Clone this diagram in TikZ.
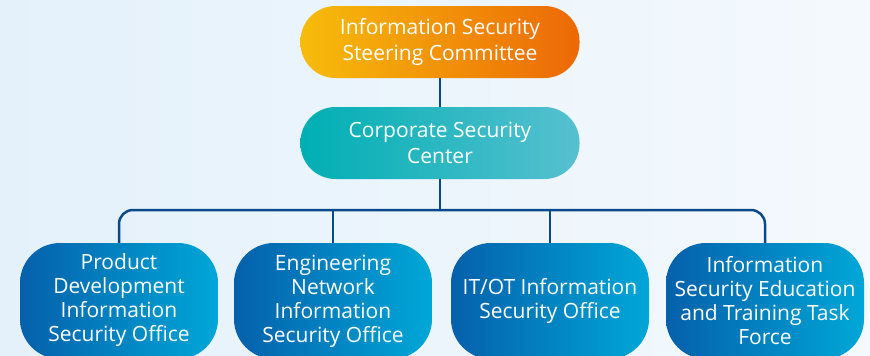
\documentclass[tikz,border=0pt]{standalone}
\usepackage{fontspec}
\setmainfont{Open Sans}
\definecolor{bgleft}{HTML}{E4F1FB}
\definecolor{bgright}{HTML}{F4F9FD}
\definecolor{linkblue}{HTML}{0B4A8A}
\definecolor{orangeA}{HTML}{F7BC0B}
\definecolor{orangeB}{HTML}{EC6806}
\definecolor{tealA}{HTML}{00AFB3}
\definecolor{tealB}{HTML}{57C0D0}
\definecolor{blueA}{HTML}{0560AB}
\definecolor{blueB}{HTML}{00A7D7}

\begin{document}
\begin{tikzpicture}[x=1pt, y=-1pt]
        % background
        \fill[left color=bgleft, right color=bgright] (0,0) rectangle (870,356);
        \useasboundingbox (0,0) rectangle (870,356);
        \begin{scope}
            \clip (0,0) rectangle (870,356);
            \begin{scope}[every node/.style={rectangle,rounded corners=35pt,text=white,align=center,
                          font=\fontsize{21}{25.5}\selectfont,minimum width=279pt,minimum height=72pt,inner sep=0pt}]
                \node (isc) [left color=orangeA, right color=orangeB] at (440, 42) {Information Security\\Steering Committee} ;
                \node (csc) [left color=tealA, right color=tealB] at (440, 143) {Corporate Security\\Center} ;
            \end{scope}
            \begin{scope}[every node/.style={rectangle,rounded corners=40pt,text=white,align=center,
                          left color=blueA, right color=blueB,
                          font=\fontsize{21}{24}\selectfont,minimum width=198pt,minimum height=116pt,inner sep=0pt}]
                \node (pdo) at (119, 301) {\raisebox{3pt}{\begin{tabular}{@{}c@{}}Product\\Development\\Information\\Security Office\end{tabular}}} ;
                \node (eno) at (333, 301) {Engineering\\Network\\Information\\Security Office} ;
                \node (ito) at (550, 301) {IT/OT Information\\Security Office} ;
                \node (etf) at (765, 301) {Information\\Security Education\\and Training Task\\Force} ;
            \end{scope}
            \coordinate (bus) at (440, 210) ;
            \begin{scope}[every path/.style={draw=linkblue,line width=2.5pt}]
                \path (isc) -- (csc);
                \path (csc) -- (bus);
                \path [rounded corners=14pt] (pdo.north) |- (bus) -| (etf.north);
                \path (eno.north) -- (eno.north |- bus);
                \path (ito.north) -- (ito.north |- bus);
            \end{scope}
        \end{scope}
    \end{tikzpicture}
\end{document}
